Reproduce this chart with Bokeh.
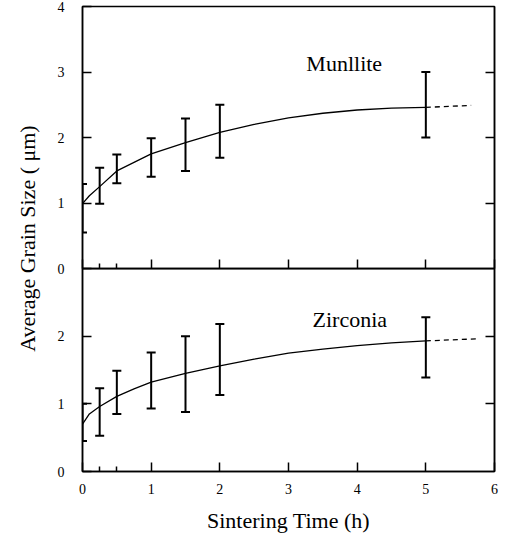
import math
from bokeh.plotting import figure
from bokeh.models import Range1d, LinearAxis, FixedTicker, Whisker, TeeHead, ColumnDataSource, Label
from bokeh.layouts import row, column
from bokeh.embed import file_html
from bokeh.resources import INLINE
from bokeh.core.properties import value

# ---------------- data ----------------
time_h = [0, 0.25, 0.5, 1.0, 1.5, 2.0, 5.0]
mullite_low = [0.55, 0.99, 1.30, 1.40, 1.49, 1.69, 2.00]
mullite_high = [1.29, 1.54, 1.74, 1.99, 2.29, 2.50, 3.00]
zirconia_low = [0.45, 0.53, 0.85, 0.93, 0.88, 1.13, 1.39]
zirconia_high = [1.00, 1.23, 1.49, 1.76, 2.00, 2.18, 2.28]

fit_time = [0, 0.1, 0.25, 0.5, 0.75, 1.0, 1.5, 2.0, 2.5, 3.0, 3.5, 4.0, 4.5, 5.0]
mullite_fit = [0.99, 1.11, 1.25, 1.49, 1.62, 1.75, 1.92, 2.08, 2.20, 2.30, 2.37, 2.42, 2.45, 2.46]
zirconia_fit = [0.70, 0.85, 0.96, 1.11, 1.22, 1.32, 1.45, 1.56, 1.66, 1.75, 1.81, 1.86, 1.90, 1.93]
mullite_ext_time = [5.0, 5.66]
mullite_ext = [2.46, 2.49]
zirconia_ext_time = [5.0, 5.73]
zirconia_ext = [1.93, 1.96]

x_ticks = [0, 1, 2, 3, 4, 5, 6]
x_minor = [0.25, 0.5]
mullite_yticks = [0, 1, 2, 3, 4]
zirconia_yticks = [0, 1, 2]

FONT = "Liberation Serif"
OVERLAP = 10


def style_axis(ax, labels=True):
    # ticks pointing into the frame
    ax.major_tick_in = 0
    ax.major_tick_out = -9
    ax.minor_tick_in = 0
    ax.minor_tick_out = -5
    ax.axis_line_color = "black"
    ax.axis_line_width = 1.5
    ax.major_tick_line_width = 1.5
    ax.minor_tick_line_width = 1.5
    ax.major_tick_line_color = "black"
    ax.minor_tick_line_color = "black"
    ax.major_label_text_font = FONT
    if labels:
        ax.major_label_text_color = "black"
        ax.major_label_text_font_size = "14px"
        ax.major_label_standoff = 18
    else:
        ax.major_label_text_color = None
        ax.major_label_text_font_size = "0px"
        ax.major_label_standoff = 0


def panel(frame_h, ymax, yticks, right_ticks, bottom_labels, border_top, border_bottom, fill):
    p = figure(frame_width=412, frame_height=frame_h,
               x_range=Range1d(0, 6), y_range=Range1d(0, ymax),
               x_axis_type=None, y_axis_type=None,
               output_backend="svg", toolbar_location=None,
               min_border_left=38, min_border_right=8,
               min_border_top=border_top, min_border_bottom=border_bottom)
    p.outline_line_color = "black"
    p.outline_line_width = 1.5
    p.background_fill_color = fill
    p.border_fill_color = fill

    xb = LinearAxis(ticker=FixedTicker(ticks=x_ticks, minor_ticks=x_minor))
    style_axis(xb, labels=bottom_labels)
    p.add_layout(xb, "below")

    yl = LinearAxis(ticker=FixedTicker(ticks=yticks))
    style_axis(yl, labels=True)
    p.add_layout(yl, "left")

    yr = LinearAxis(ticker=FixedTicker(ticks=right_ticks))
    style_axis(yr, labels=False)
    p.add_layout(yr, "right")
    return p, xb


def draw_series(p, low, high, fit, ext_t, ext_v):
    src = ColumnDataSource(dict(t=time_h, lo=low, hi=high))
    w = Whisker(base="t", lower="lo", upper="hi", source=src, dimension="height",
                line_color="black", line_width=2,
                upper_head=TeeHead(size=9, line_width=2, line_color="black"),
                lower_head=TeeHead(size=9, line_width=2, line_color="black"))
    p.add_layout(w)
    p.line(fit_time, fit, line_color="black", line_width=1.3)
    p.line(ext_t, ext_v, line_color="black", line_width=1.3, line_dash="5 4")


# ---------------- top panel: Mullite ----------------
top, _ = panel(262, 4, mullite_yticks, [1, 2, 3], False, 6, OVERLAP, "white")
draw_series(top, mullite_low, mullite_high, mullite_fit, mullite_ext_time, mullite_ext)
top.text(x=[3.26], y=[3.13], text=["Munllite"], text_font=value(FONT), text_font_size="22px",
         text_align="left", text_baseline="middle", text_color="black")

# ---------------- bottom panel: Zirconia (transparent, pulled up over the top panel's border) ----------------
bot, xb = panel(203, 3, zirconia_yticks, [1, 2], True, 0, 64, None)
bot.margin = (-OVERLAP, 0, 0, 0)
xb.major_label_standoff = 17
xb.axis_label = "Sintering Time (h)"
xb.axis_label_text_font = FONT
xb.axis_label_text_font_size = "22px"
xb.axis_label_text_font_style = "normal"
xb.axis_label_text_color = "black"
xb.axis_label_standoff = 11
draw_series(bot, zirconia_low, zirconia_high, zirconia_fit, zirconia_ext_time, zirconia_ext)
bot.text(x=[3.35], y=[2.24], text=["Zirconia"], text_font=value(FONT), text_font_size="22px",
         text_align="left", text_baseline="middle", text_color="black")

# ---------------- shared y label ----------------
H = 535
lab = figure(width=44, height=H, x_range=Range1d(0, 44), y_range=Range1d(0, H),
             x_axis_type=None, y_axis_type=None, output_backend="svg", toolbar_location=None,
             min_border=0)
lab.outline_line_color = None
lab.add_layout(Label(x=27, y=H - 238, text="Average Grain Size ( μm)", angle=math.pi / 2,
                     text_font=FONT, text_font_size="22px", text_align="center",
                     text_baseline="middle", text_color="black"))

layout = row(lab, column(top, bot))

with open("out.html", "w") as f:
    f.write(file_html(layout, INLINE))
